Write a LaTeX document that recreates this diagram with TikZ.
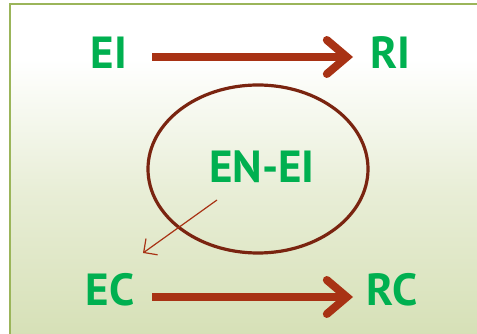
\documentclass[tikz,border=0pt]{standalone}
\usepackage{fontspec}
\setmainfont{PT Sans}
\usetikzlibrary{arrows.meta}
\definecolor{framegreen}{HTML}{9BB55A}
\definecolor{labelgreen}{HTML}{00B050}
\definecolor{rust}{HTML}{A83214}
\definecolor{darkrust}{HTML}{7A2410}
\definecolor{paleback}{HTML}{D6E0B6}
\tikzset{
  lbl/.style={text=labelgreen, font=\fontsize{45}{45}\selectfont\bfseries, inner sep=0pt, anchor=center},
  bigarrow/.style={draw=rust, line width=8pt, -{Straight Barb[length=20pt, width=34pt, line cap=round, line width=8pt]}},
  thinarrow/.style={draw=rust, line width=1.2pt, -{Straight Barb[length=10pt, width=20pt, line width=1.2pt]}}
}
\begin{document}
\begin{tikzpicture}[x=1pt, y=-1pt]
\useasboundingbox (0,0) rectangle (477,334);
% panel background with soft vertical gradient
\fill[white] (10,4) rectangle (480,60);
\shade[top color=white, bottom color=paleback!55!white] (10,59) rectangle (480,190);
\shade[top color=paleback!55!white, bottom color=paleback] (10,189.5) rectangle (480,338);
% frame edges
\draw[framegreen, line width=2.5pt] (10,340) -- (10,4) -- (480,4);
% central cycle
\draw[darkrust, line width=3.2pt] (258,169) ellipse [x radius=110, y radius=84];
% labels
\node[lbl] (ei) at (109,53) {EI};
\node[lbl] (ri) at (390,53) {RI};
\node[lbl] (enei) at (262,167) {EN-EI};
\node[lbl] (ec) at (110,290) {EC};
\node[lbl] (rc) at (392,290) {RC};
% connectors
\coordinate (a1s) at (152,57);
\coordinate (a1e) at (353,57);
\coordinate (a2s) at (152,297);
\coordinate (a2e) at (353,297);
\draw[bigarrow] (a1s) -- (a1e);
\draw[bigarrow] (a2s) -- (a2e);
\coordinate (ts) at (217,200);
\coordinate (te) at (143,253);
\draw[thinarrow] (ts) -- (te);
\end{tikzpicture}
\end{document}
